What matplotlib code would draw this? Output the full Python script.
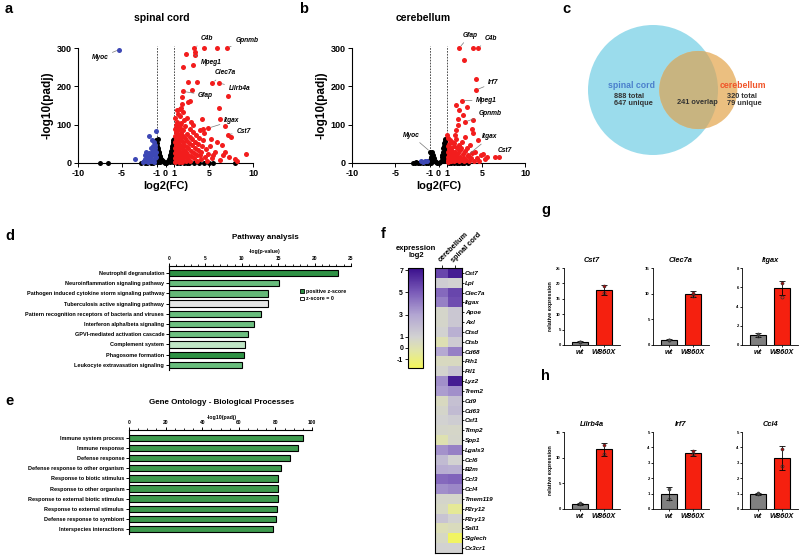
import numpy as np
import matplotlib
matplotlib.use('Agg')
import matplotlib.pyplot as plt
from matplotlib.patches import Circle, Patch
from matplotlib.colors import LinearSegmentedColormap, Normalize
from matplotlib.cm import ScalarMappable
from matplotlib.ticker import MultipleLocator

plt.rcParams['font.family'] = ['Liberation Sans', 'DejaVu Sans']
plt.rcParams['font.weight'] = 'bold'
plt.rcParams['axes.linewidth'] = 0.8
plt.rcParams['axes.unicode_minus'] = False
plt.rcParams['xtick.major.width'] = 0.7
plt.rcParams['ytick.major.width'] = 0.7

# ------------------------------------------------------------------ data
# volcano: spinal cord  (log2FC, -log10 padj)
sc_red = [(3.3, 300), (3.37, 290), (4.4, 300), (5.85, 300), (6.99, 300), (2.3, 285), (3.37, 281),
          (3.1, 255), (2.04, 250), (3.56, 211), (2.61, 211), (5.35, 209), (6.11, 209), (7.18, 174),
          (3.03, 190), (1.96, 187), (1.85, 172), (1.85, 155), (2.8, 163), (2.61, 159), (1.28, 137),
          (1.73, 144), (6.11, 144), (4.13, 116), (6.23, 116), (6.8, 96), (4.9, 91), (4.32, 90),
          (7.1, 74), (7.45, 68), (5.16, 63), (6.5, 46), (9.2, 23), (7.94, 11), (6.53, 20), (5.47, 20),
          (3.94, 20),
          (1.05, 3), (1.05, 12), (1.05, 25), (1.08, 40), (1.1, 55), (1.1, 70), (1.12, 88), (1.15, 100),
          (1.2, 8), (1.2, 18), (1.2, 32), (1.22, 48), (1.25, 62), (1.25, 80), (1.3, 95), (1.3, 108),
          (1.35, 4), (1.35, 15), (1.38, 28), (1.4, 42), (1.4, 58), (1.45, 72), (1.45, 86), (1.5, 2),
          (1.5, 10), (1.52, 22), (1.55, 36), (1.55, 50), (1.6, 66), (1.6, 98), (1.65, 6), (1.68, 18),
          (1.7, 30), (1.72, 45), (1.75, 60), (1.78, 78), (1.8, 90), (1.8, 104), (1.85, 3), (1.88, 14),
          (1.9, 26), (1.92, 40), (1.95, 54), (2.0, 70), (2.0, 85), (2.05, 8), (2.1, 20), (2.12, 34),
          (2.15, 48), (2.2, 64), (2.25, 96), (2.3, 4), (2.3, 15), (2.35, 28), (2.4, 42), (2.45, 58),
          (2.5, 76), (2.55, 10), (2.6, 22), (2.62, 38), (2.7, 52), (2.75, 68), (2.8, 88), (2.85, 5),
          (2.9, 18), (2.95, 32), (3.0, 46), (3.05, 62), (3.1, 80), (3.15, 100), (3.2, 12), (3.3, 26),
          (3.35, 40), (3.4, 56), (3.5, 72), (3.55, 6), (3.6, 20), (3.7, 35), (3.75, 50), (3.8, 66),
          (3.9, 85), (4.0, 10), (4.1, 28), (4.2, 44), (4.3, 60), (4.4, 78), (4.5, 16), (4.6, 36),
          (4.7, 5), (4.9, 24), (5.1, 45), (5.3, 12), (5.6, 30), (5.9, 55), (6.2, 8), (6.8, 28),
          (7.3, 16), (8.2, 6), (1.1, 118), (1.4, 128), (1.7, 122), (2.1, 112), (2.4, 118), (2.9, 108),
          (1.6, 140), (2.0, 132)]
sc_black = [(-7.49, 0), (-6.53, 0), (2.72, 0), (3.83, 0), (4.97, 0), (5.47, 0), (7.94, 0), (-2.8, 0),
            (-2.4, 0), (-2.1, 0), (-1.7, 0), (-1.4, 0), (1.3, 0), (1.7, 0), (2.1, 0), (2.4, 0), (3.2, 0),
            (4.4, 0), (-0.9, 63), (-1.0, 52), (-0.95, 45), (-0.9, 40), (-0.85, 35), (-0.8, 30),
            (-0.75, 26), (-0.7, 22), (-0.65, 18), (-0.6, 15), (-0.5, 11), (-0.4, 7), (-0.3, 4),
            (-0.2, 2), (-0.1, 1), (0.0, 0), (0.1, 1), (0.2, 3), (0.3, 6), (0.4, 10), (0.5, 15),
            (0.55, 20), (0.6, 26), (0.65, 32), (0.7, 38), (0.75, 44), (0.8, 50), (0.85, 55), (0.9, 60),
            (0.95, 63), (-1.0, 30), (-0.95, 20), (-0.9, 12), (-0.8, 8), (-0.7, 5), (-1.0, 10),
            (-1.1, 42), (-1.05, 35), (-0.98, 28), (0.95, 40), (1.0, 48), (1.0, 30), (0.9, 22),
            (0.85, 12), (0.75, 6), (1.0, 12), (0.95, 25), (0.8, 18), (0.7, 10), (-0.6, 3), (-0.9, 3),
            (-1.0, 2), (0.5, 3), (0.9, 2), (1.0, 4), (-0.85, 24), (0.88, 33), (-1.05, 60), (1.02, 58)]
sc_blue = [(-5.28, 296), (-3.49, 10), (-1.12, 83), (-1.89, 70), (-1.58, 61), (-1.3, 55), (-1.2, 48),
           (-1.45, 45), (-1.7, 40), (-1.15, 38), (-2.27, 29), (-2.15, 16), (-1.9, 25), (-1.6, 30),
           (-1.35, 32), (-2.4, 10), (-2.5, 5), (-2.2, 4), (-1.95, 8), (-1.75, 14), (-1.5, 20),
           (-1.25, 24), (-1.1, 28), (-2.6, 2), (-2.0, 2), (-1.4, 6), (-1.2, 12), (-1.65, 4),
           (-2.35, 20), (-1.8, 18), (-1.05, 15), (-1.3, 3)]
sc_labels = [('Myoc', (-7.49, 275), (-5.28, 296)), ('C4b', (4.7, 324), (3.3, 300)),
             ('Gpnmb', (9.28, 320), (6.99, 300)), ('Mpeg1', (5.28, 263), (3.37, 281)),
             ('Clec7a', (6.8, 235), (5.35, 209)), ('Lilrb4a', (8.44, 194), (6.11, 209)),
             ('Gfap', (4.59, 177), (1.96, 187)), ('Itgax', (7.56, 110), (4.9, 91)),
             ('Cst7', (8.9, 81), (7.1, 74))]

# volcano: cerebellum
cb_red = [(2.39, 300), (4.02, 300), (4.52, 300), (2.93, 270), (4.32, 220), (4.29, 190), (2.66, 163),
          (2.08, 152), (3.24, 146), (2.39, 139), (2.86, 124), (2.28, 116), (3.05, 107), (4.02, 111),
          (2.2, 98), (1.97, 85), (3.82, 90), (4.02, 77), (1.04, 74), (1.89, 72), (3.05, 68),
          (2.66, 55), (4.59, 59), (3.63, 46), (2.47, 33), (4.21, 29), (5.17, 23), (5.56, 16),
          (6.53, 16), (6.99, 16), (3.36, 20), (5.37, 11),
          (1.05, 3), (1.05, 15), (1.1, 28), (1.1, 45), (1.15, 8), (1.2, 20), (1.2, 36), (1.25, 50),
          (1.3, 4), (1.35, 14), (1.4, 26), (1.45, 40), (1.5, 6), (1.55, 18), (1.6, 32), (1.65, 10),
          (1.7, 24), (1.75, 44), (1.8, 4), (1.85, 15), (1.9, 30), (2.0, 8), (2.05, 20), (2.1, 38),
          (2.2, 12), (2.3, 26), (2.4, 5), (2.5, 16), (2.6, 40), (2.7, 9), (2.8, 24), (2.9, 4),
          (3.0, 14), (3.1, 32), (3.2, 8), (3.4, 18), (3.5, 4), (3.7, 12), (3.9, 26), (4.1, 6),
          (4.4, 14), (4.7, 4), (4.9, 20), (1.3, 60), (1.6, 55), (2.0, 62), (2.4, 48), (1.15, 65),
          (1.8, 52), (3.3, 38)]
cb_black = [(-3.0, 0), (-2.7, 0), (-2.4, 0), (-2.1, 0), (-1.8, 0), (-1.5, 0), (-1.2, 0), (-0.9, 0),
            (1.2, 0), (1.5, 0), (1.8, 0), (2.1, 0), (2.4, 0), (2.7, 0), (3.0, 0), (3.4, 0), (-2.6, 2),
            (-2.0, 3), (-1.4, 2), (-0.93, 29), (-0.85, 26), (-0.7, 28), (-0.6, 22), (-0.8, 18),
            (-0.9, 15), (-0.5, 14), (-0.7, 10), (-0.95, 8), (-0.4, 6), (-0.6, 5), (-0.3, 3),
            (-1.0, 4), (-0.85, 3), (-0.2, 1), (0.0, 0), (0.2, 2), (0.35, 8), (0.4, 15), (0.45, 22),
            (0.5, 30), (0.55, 38), (0.6, 45), (0.65, 52), (0.7, 58), (0.75, 63), (0.8, 55),
            (0.85, 48), (0.9, 40), (0.93, 30), (0.95, 22), (0.9, 14), (0.8, 8), (0.6, 5), (0.7, 25),
            (0.6, 18), (0.8, 35), (1.0, 12), (1.0, 5), (0.5, 10), (0.7, 42)]
cb_blue = [(-1.97, 5), (-1.58, 5), (-1.3, 4), (-1.75, 3)]
cb_labels = [('Gfap', (3.63, 333), (2.39, 300)), ('C4b', (6.06, 324), (4.52, 300)),
             ('Irf7', (6.33, 209), (4.29, 190)), ('Mpeg1', (5.56, 163), (2.66, 163)),
             ('Gpnmb', (5.95, 130), (3.05, 107)), ('Itgax', (5.95, 68), (3.36, 20)),
             ('Cst7', (7.61, 33), (6.99, 16)), ('Myoc', (-3.13, 72), (-0.93, 29))]

# venn
venn_total = [888, 320]
venn_overlap = 241

# pathway analysis
path_names = ['Neutrophil degranulation', 'Neuroinflammation signaling pathway',
              'Pathogen induced cytokine storm signaling pathway', 'Tuberculosis active signaling pathway',
              'Pattern recognition receptors of bacteria and viruses', 'Interferon alpha/beta signaling',
              'GPVI-mediated activation cascade', 'Complement system', 'Phagosome formation',
              'Leukocyte extravasation signaling']
path_vals = [23.2, 15.1, 13.65, 13.55, 12.6, 11.7, 10.9, 10.5, 10.3, 10.0]
path_z = [3.6, 2.4, 2.5, 0.0, 2.4, 2.3, 2.3, 1.0, 3.6, 2.4]

# gene ontology
go_names = ['Immune system process', 'Immune response', 'Defense response',
            'Defense response to other organism', 'Response to biotic stimulus',
            'Response to other organism', 'Response to external biotic stimulus',
            'Response to external stimulus', 'Defense response to symbiont', 'Interspecies interactions']
go_vals = [95.1, 92.3, 87.8, 82.9, 81.6, 81.6, 81.4, 80.9, 80.2, 78.5]

# heatmap
heat_genes = ['Cst7', 'Lpl', 'Clec7a', 'Itgax', 'Apoe', 'Axl', 'Ctsd', 'Ctsb', 'Cd68', 'Fth1', 'Ftl1',
              'Lyz2', 'Trem2', 'Cd9', 'Cd63', 'Csf1', 'Timp2', 'Spp1', 'Lgals3', 'Ccl6', 'B2m', 'Ccl3',
              'Ccl4', 'Tmem119', 'P2ry12', 'P2ry13', 'Sall1', 'Siglech', 'Cx3cr1']
heat_cereb = [5.6, 1.2, 4.6, 4.0, 0.8, 0.8, 1.0, 0.1, 2.8, 0.5, 0.9, 3.6, 3.2, 0.5, 0.8, 1.0, 0.8,
              0.0, 3.5, 2.0, 2.6, 4.6, 3.6, 0.8, 0.6, 1.6, 0.2, 0.6, 1.0]
heat_spinal = [6.8, 1.0, 5.6, 5.4, 1.5, 1.5, 2.5, 1.3, 4.0, 0.5, 1.6, 6.8, 3.6, 1.8, 2.0, 1.2, 0.7,
               0.8, 4.0, 1.0, 2.5, 4.8, 3.8, 0.8, -0.6, 1.0, 0.4, -1.6, 1.0]
heat_ticks = [7, 5, 3, 1, 0, -1]

# qPCR
qpcr_genes = ['Cst7', 'Clec7a', 'Itgax', 'Lilrb4a', 'Irf7', 'Ccl4']
qpcr_wt = [1.0, 1.0, 1.0, 1.0, 1.0, 0.98]
qpcr_wt_sd = [0.15, 0.12, 0.2, 0.15, 0.43, 0.08]
qpcr_mut = [17.8, 10.0, 5.9, 11.6, 3.64, 3.32]
qpcr_mut_sd = [1.6, 0.6, 0.75, 1.25, 0.18, 0.78]
qpcr_wt_pts = [(1.05, 0.95), (1.05, 0.95), (1.1, 0.9), (1.1, 0.9), (1.3, 0.67), (1.05, 0.97)]
qpcr_mut_pts = [(19.0, 16.8), (10.1, 9.6), (6.4, 5.0), (12.5, 10.7), (3.74, 3.57), (3.9, 2.8)]
qpcr_ymax = [25, 15, 8, 15, 5, 5]
qpcr_ystep = [5, 5, 2, 5, 1, 1]
qpcr_groups = ['wt', 'W860X']

# ------------------------------------------------------------------ figure
W, H = 800, 555
fig = plt.figure(figsize=(8, 5.55), dpi=100)


def add_ax(x0, y0, x1, y1):
    return fig.add_axes([x0 / W, 1 - y1 / H, (x1 - x0) / W, (y1 - y0) / H])


def ftext(x, y, s, **kw):
    return fig.text(x / W, 1 - y / H, s, **kw)


for letter, (lx, ly) in zip('abcdefgh', [(5, 9), (299, 9), (562, 9), (5, 236), (5, 401),
                                          (381, 234), (541, 210), (541, 376)]):
    ftext(lx, ly, letter, fontsize=10.5, fontweight='bold', ha='left', va='center')

RED = '#f21d1d'
BLUE = '#3d48b5'


def volcano(ax, red, black, blue, labels, title, tx):
    for pts, col in [(black, 'black'), (blue, BLUE), (red, RED)]:
        xs = [p[0] for p in pts]
        ys = [p[1] for p in pts]
        ax.scatter(xs, ys, s=13, c=col, lw=0, clip_on=False, zorder=3)
    ax.set_xlim(-10, 10)
    ax.set_ylim(0, 300)
    for v in (-1, 1):
        ax.plot([v, v], [0, 305], ls=(0, (2, 1.5)), color='#333333', lw=0.6, zorder=2, clip_on=False)
    ax.set_xticks([-10, -5, -1, 0, 1, 5, 10])
    ax.set_xticklabels(['-10', '-5', '-1', '0', '1', '5', '10'])
    ax.set_yticks([0, 100, 200, 300])
    ax.tick_params(labelsize=6.5, length=3, pad=1.5)
    for lab in ax.get_xticklabels() + ax.get_yticklabels():
        lab.set_fontweight('bold')
    for sp in ('top', 'right'):
        ax.spines[sp].set_visible(False)
    ax.set_ylabel('-log10(padj)', fontsize=8.5, fontweight='bold', labelpad=2)
    ax.set_xlabel('log2(FC)', fontsize=8, fontweight='bold', labelpad=2)
    for name, (tx_, ty_), (px, py) in labels:
        ax.annotate(name, xy=(px, py), xytext=(tx_, ty_), fontsize=4.8, fontstyle='italic',
                    fontweight='bold', ha='center', va='center', annotation_clip=False,
                    arrowprops=dict(arrowstyle='-', color='#777777', lw=0.5, shrinkA=1, shrinkB=2))
    ftext(tx, 18, title, fontsize=7.5, fontweight='bold', ha='center', va='center')


ax_a = add_ax(78, 48, 253, 163)
volcano(ax_a, sc_red, sc_black, sc_blue, sc_labels, 'spinal cord', 162)
ax_b = add_ax(352, 48, 525, 163)
volcano(ax_b, cb_red, cb_black, cb_blue, cb_labels, 'cerebellum', 423)

# ------------------------------------------------------------------ venn
r1 = np.sqrt(venn_total[0] / np.pi)
r2 = np.sqrt(venn_total[1] / np.pi)


def lens_area(d, ra, rb):
    a1 = ra ** 2 * np.arccos(np.clip((d ** 2 + ra ** 2 - rb ** 2) / (2 * d * ra), -1, 1))
    a2 = rb ** 2 * np.arccos(np.clip((d ** 2 + rb ** 2 - ra ** 2) / (2 * d * rb), -1, 1))
    a3 = 0.5 * np.sqrt(max((-d + ra + rb) * (d + ra - rb) * (d - ra + rb) * (d + ra + rb), 0))
    return a1 + a2 - a3


lo, hi = abs(r1 - r2) + 1e-6, r1 + r2 - 1e-6
for _ in range(60):
    mid = 0.5 * (lo + hi)
    if lens_area(mid, r1, r2) > venn_overlap:
        lo = mid
    else:
        hi = mid
dist = 0.5 * (lo + hi)

big_r_px = 65.0
cx_px, cy_px = 653, 90
s = big_r_px / r1
bx0, by0, bx1, by1 = 545, 12, 795, 172
ax_c = add_ax(bx0, by0, bx1, by1)
ax_c.set_xlim((bx0 - cx_px) / s, (bx1 - cx_px) / s)
ax_c.set_ylim(-(by1 - cy_px) / s, (cy_px - by0) / s)
ax_c.axis('off')
c_big = Circle((0, 0), r1, facecolor='#9bdcec', edgecolor='none')
ax_c.add_patch(c_big)
ax_c.add_patch(Circle((dist, 0), r2, facecolor='#ebbf80', edgecolor='none'))
ov = Circle((dist, 0), r2, facecolor='#c8b480', edgecolor='none')
ax_c.add_patch(ov)
ov.set_clip_path(c_big)

ftext(632, 85, 'spinal cord', fontsize=6.3, fontweight='bold', color='#4a7fcc', ha='center', va='center')
ftext(614, 100, f'{venn_total[0]} total\n{venn_total[0] - venn_overlap} unique', fontsize=5.3,
      fontweight='bold', color='#333333', ha='left', va='center', linespacing=1.0)
ftext(743, 85, 'cerebellum', fontsize=6.3, fontweight='bold', color='#f0552a', ha='center', va='center')
ftext(727, 100, f'{venn_total[1]} total\n{venn_total[1] - venn_overlap} unique', fontsize=5.3,
      fontweight='bold', color='#333333', ha='left', va='center', linespacing=1.0)
ftext(697, 102, f'{venn_overlap} overlap', fontsize=5.3, fontweight='bold', color='#333333',
      ha='center', va='center')

# ------------------------------------------------------------------ pathway analysis
zcmap = LinearSegmentedColormap.from_list('z', [(0, '#e6e6e6'), (0.25, '#c6e8cb'), (0.6, '#74c487'),
                                                 (1.0, '#2e9144')])
ax_d = add_ax(169, 266, 351, 370)
ypos = np.arange(len(path_names))
ax_d.barh(ypos, path_vals, height=0.62, color=[zcmap(z / 3.6) for z in path_z], edgecolor='black',
          lw=0.8)
ax_d.set_xlim(0, 25)
ax_d.set_ylim(len(path_names) - 0.5, -0.69)
ax_d.xaxis.tick_top()
ax_d.set_xticks(range(0, 26, 5))
ax_d.xaxis.set_minor_locator(MultipleLocator(1))
ax_d.tick_params(axis='x', which='major', labelsize=3.5, length=2.5, pad=1, width=0.7)
ax_d.tick_params(axis='x', which='minor', length=1.5, width=0.6)
ax_d.set_yticks(ypos)
ax_d.set_yticklabels(path_names, fontsize=4, fontweight='bold')
ax_d.tick_params(axis='y', length=2, pad=1.5, width=0.7)
ax_d.spines['bottom'].set_visible(False)
ax_d.spines['right'].set_visible(False)
ftext(265, 237, 'Pathway analysis', fontsize=5.8, fontweight='bold', ha='center', va='center')
ftext(265, 251, '-log(p-value)', fontsize=3.8, fontweight='bold', ha='center', va='center')
ax_d.legend(handles=[Patch(facecolor=zcmap(1.0), edgecolor='black', lw=0.6),
                     Patch(facecolor='white', edgecolor='black', lw=0.6)],
            labels=['positive z-score', 'z-score = 0'], loc='upper left',
            bbox_to_anchor=(300 / W, 1 - 289 / H), bbox_transform=fig.transFigure, frameon=False,
            fontsize=3.8, handlelength=0.7, handleheight=0.7, handletextpad=0.5, labelspacing=0.45,
            borderaxespad=0, borderpad=0)

# ------------------------------------------------------------------ gene ontology
ax_e = add_ax(129, 430, 312, 534)
ypos = np.arange(len(go_names))
ax_e.barh(ypos, go_vals, height=0.62, color='#3e9a4e', edgecolor='black', lw=0.8)
ax_e.set_xlim(0, 100)
ax_e.set_ylim(len(go_names) - 0.5, -0.79)
ax_e.xaxis.tick_top()
ax_e.set_xticks(range(0, 101, 20))
ax_e.xaxis.set_minor_locator(MultipleLocator(5))
ax_e.tick_params(axis='x', which='major', labelsize=3.5, length=2.5, pad=1, width=0.7)
ax_e.tick_params(axis='x', which='minor', length=1.5, width=0.6)
ax_e.set_yticks(ypos)
ax_e.set_yticklabels(go_names, fontsize=4, fontweight='bold')
ax_e.tick_params(axis='y', length=2, pad=1.5, width=0.7)
ax_e.spines['bottom'].set_visible(False)
ax_e.spines['right'].set_visible(False)
ftext(222, 403, 'Gene Ontology - Biological Processes', fontsize=5.8, fontweight='bold', ha='center',
      va='center')
ftext(222, 418, '-log10(padj)', fontsize=3.8, fontweight='bold', ha='center', va='center')

# ------------------------------------------------------------------ heatmap
vmin, vmax = -1.8, 7.2
stops = [(-1.8, '#f3f65a'), (-0.3, '#e2e6a6'), (1.0, '#d2d2d2'), (3.0, '#b2a5d2'), (5.0, '#7b5cb9'),
         (7.2, '#3a0f8c')]
hcmap = LinearSegmentedColormap.from_list('h', [((v - vmin) / (vmax - vmin), c) for v, c in stops])
hnorm = Normalize(vmin, vmax)
cax = add_ax(408, 268, 423, 368)
cb = fig.colorbar(ScalarMappable(norm=hnorm, cmap=hcmap), cax=cax, ticks=heat_ticks)
cb.outline.set_linewidth(0.8)
cax.yaxis.set_ticks_position('left')
cax.tick_params(labelsize=5, length=2, pad=1.5, width=0.6)
ftext(416, 252, 'expression\nlog2', fontsize=5.5, fontweight='bold', ha='center', va='center',
      linespacing=1.0)

ax_f = add_ax(435, 268, 462, 553)
mat = np.column_stack([heat_cereb, heat_spinal])
ax_f.imshow(mat, cmap=hcmap, norm=hnorm, aspect='auto', interpolation='nearest')
ax_f.xaxis.tick_top()
ax_f.set_xticks([0, 1])
ax_f.set_xticklabels(['cerebellum', 'spinal cord'], rotation=45, ha='left', va='bottom',
                     rotation_mode='anchor', fontsize=5.3, fontweight='bold')
ax_f.tick_params(axis='x', length=2, pad=1, width=0.6)
ax_f.yaxis.tick_right()
ax_f.set_yticks(range(len(heat_genes)))
ax_f.set_yticklabels(heat_genes, fontsize=4.6, fontweight='bold', fontstyle='italic')
ax_f.tick_params(axis='y', length=1.5, pad=0.5, width=0.6)

# ------------------------------------------------------------------ qPCR
x_starts = [564, 653, 742]
rows = [(268, 345), (432, 509)]
for i, gene in enumerate(qpcr_genes):
    r, c = divmod(i, 3)
    y0, y1 = rows[r]
    ax = add_ax(x_starts[c], y0, x_starts[c] + 56, y1)
    means = [qpcr_wt[i], qpcr_mut[i]]
    sds = [qpcr_wt_sd[i], qpcr_mut_sd[i]]
    ax.bar([0, 1], means, width=0.66, color=['#808080', '#f5200f'], edgecolor='black', lw=0.8,
           zorder=2)
    ax.errorbar([0, 1], means, yerr=sds, fmt='none', ecolor='black', elinewidth=0.6, capsize=2.5,
                capthick=0.6, zorder=3)
    for xg, pts in [(0, qpcr_wt_pts[i]), (1, qpcr_mut_pts[i])]:
        ax.plot([xg], [pts[0]], 'o', ms=2.2, mfc='#a01010' if xg else '#555555', mec='#333333',
                mew=0.4, zorder=4, clip_on=False)
        ax.plot([xg], [pts[1]], 'o', ms=2.2, mfc='none', mec='#333333', mew=0.5, zorder=4,
                clip_on=False)
    ax.set_xlim(-0.68, 1.68)
    ax.set_ylim(0, qpcr_ymax[i])
    ax.set_yticks(np.arange(0, qpcr_ymax[i] + 0.01, qpcr_ystep[i]))
    ax.set_xticks([0, 1])
    ax.set_xticklabels(qpcr_groups, fontsize=5.3, fontweight='bold', fontstyle='italic')
    ax.tick_params(axis='y', labelsize=3, length=1.5, pad=0.8, width=0.6)
    ax.tick_params(axis='x', length=1.5, pad=1.5, width=0.6)
    for sp in ('top', 'right'):
        ax.spines[sp].set_visible(False)
    for sp in ('left', 'bottom'):
        ax.spines[sp].set_linewidth(0.6)
    ax.set_title(gene, fontsize=5.3, fontweight='bold', fontstyle='italic', pad=4)
    if c == 0:
        ax.set_ylabel('relative expression', fontsize=4, fontweight='bold', labelpad=2)

fig.savefig('out.png', dpi=100)
